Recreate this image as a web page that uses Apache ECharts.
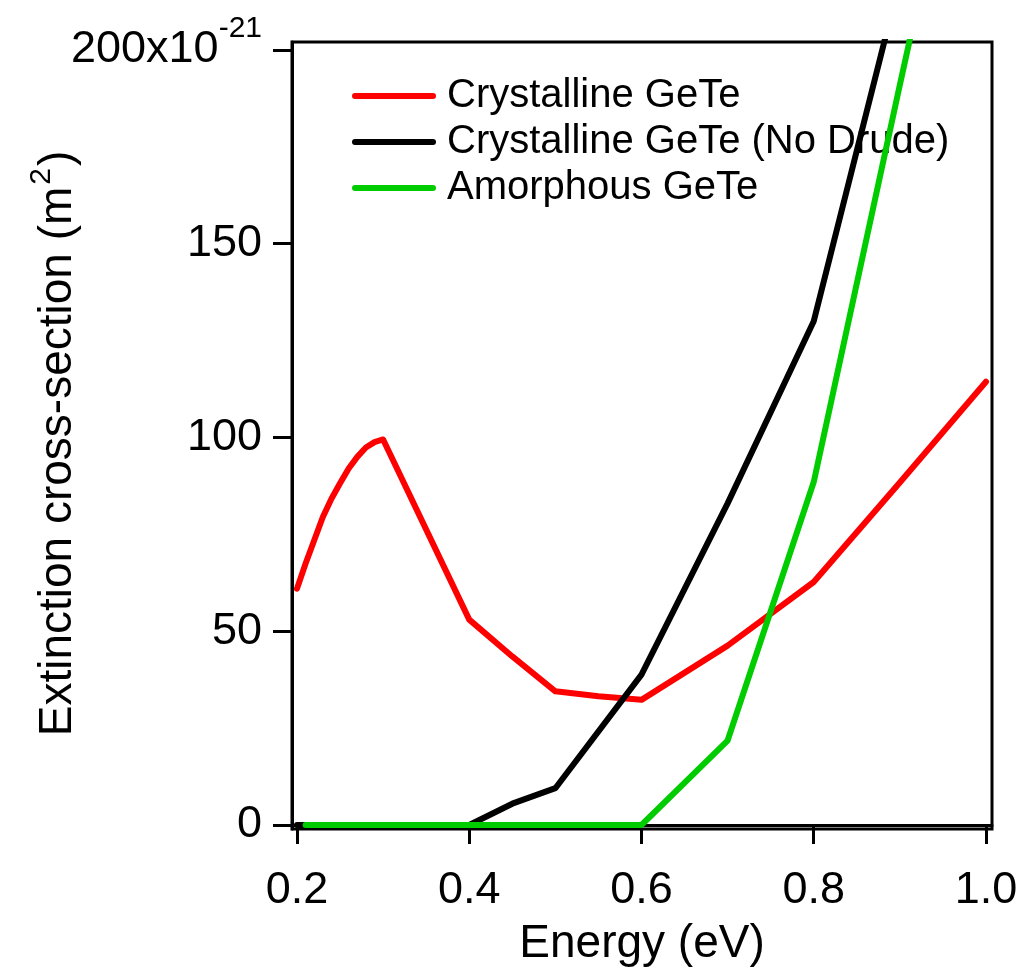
<!DOCTYPE html>
<html>
<head>
<meta charset="utf-8">
<style>
  html, body { margin: 0; padding: 0; background: #ffffff; }
  #chart { width: 1022px; height: 972px; }
</style>
<script src="https://cdn.jsdelivr.net/npm/echarts@6/dist/echarts.min.js"></script>
</head>
<body>
<div id="chart"></div>
<script>
// Photon energy (eV) and extinction cross-section (units of 1e-21 m^2)
const energyCrystalline = [0.2, 0.21, 0.22, 0.23, 0.24, 0.25, 0.26, 0.27, 0.28, 0.29, 0.3, 0.4, 0.45, 0.5, 0.55, 0.6, 0.7, 0.8, 0.9, 1.0];
const crossCrystalline  = [61, 67.5, 73.5, 79.5, 84.2, 88.2, 92, 95, 97.4, 98.8, 99.5, 53, 43.5, 34.5, 33.2, 32.3, 46.3, 62.7, 88.4, 114.4];

const energyNoDrude = [0.2, 0.3, 0.4, 0.45, 0.5, 0.6, 0.7, 0.8, 0.9];
const crossNoDrude  = [0, 0, 0, 5.5, 9.5, 38.8, 83, 130, 218];

const energyAmorphous = [0.21, 0.3, 0.4, 0.5, 0.6, 0.7, 0.8, 0.9, 1.0];
const crossAmorphous  = [0, 0, 0, 0, 0, 21.8, 88.5, 191, 292];

const seriesNames = ['Crystalline GeTe', 'Crystalline GeTe (No Drude)', 'Amorphous GeTe'];
const seriesColors = ['#ff0000', '#000000', '#00cc00'];

const xTicks = [0.2, 0.4, 0.6, 0.8, 1.0];
const yTicks = [0, 50, 100, 150, 200];

const FONT = 'Arial, "Liberation Sans", Helvetica, sans-serif';

function pairs(xs, ys) {
  return xs.map((x, i) => [x, ys[i]]);
}

const chart = echarts.init(document.getElementById('chart'), null, { renderer: 'canvas' });

const lineSeries = [
  [energyCrystalline, crossCrystalline],
  [energyNoDrude, crossNoDrude],
  [energyAmorphous, crossAmorphous]
].map(([xs, ys], i) => ({
  name: seriesNames[i],
  type: 'line',
  data: pairs(xs, ys),
  symbol: 'none',
  showSymbol: false,
  clip: true,
  lineStyle: { color: seriesColors[i], width: 6, cap: 'round', join: 'round' },
  itemStyle: { color: seriesColors[i] },
  emphasis: { disabled: true },
  z: 2 + i
}));

chart.setOption({
  animation: false,
  backgroundColor: '#ffffff',
  grid: {
    left: 292, right: 30, top: 42, bottom: 140,
    show: true, borderColor: '#000000', borderWidth: 3,
    backgroundColor: 'transparent'
  },
  legend: {
    orient: 'vertical',
    left: 347, top: 71,
    padding: 5,
    itemWidth: 78, itemHeight: 14,
    itemGap: 6,
    selectedMode: false,
    lineStyle: { width: 6, cap: 'round' },
    itemStyle: { color: 'transparent', borderWidth: 0, opacity: 0 },
    textStyle: { fontFamily: FONT, fontSize: 40, color: '#000000', padding: [0, 0, 0, 9] },
    data: seriesNames
  },
  xAxis: {
    type: 'value',
    min: 0.1942, max: 1.007,
    name: 'Energy (eV)',
    nameLocation: 'middle',
    nameGap: 92,
    nameMoveOverlap: false,
    nameTextStyle: { fontFamily: FONT, fontSize: 46, color: '#000000' },
    axisLine: { show: true, lineStyle: { color: '#000000', width: 3 } },
    axisTick: { show: true, inside: false, length: 19, customValues: xTicks, lineStyle: { color: '#000000', width: 3 } },
    axisLabel: {
      customValues: xTicks,
      margin: 39,
      fontFamily: FONT, fontSize: 45, color: '#000000',
      formatter: v => v.toFixed(1)
    },
    splitLine: { show: false }
  },
  yAxis: {
    type: 'value',
    min: -1.03, max: 202.06,
    name: '{n|Extinction cross-section (m}{s|2}{n|)}',
    nameLocation: 'middle',
    nameGap: 211,
    nameMoveOverlap: false,
    nameTextStyle: {
      fontFamily: FONT, fontSize: 46, color: '#000000',
      padding: [0, 16, 0, 0],
      rich: {
        n: { fontFamily: FONT, fontSize: 46, color: '#000000', lineHeight: 60, verticalAlign: 'bottom' },
        s: { fontFamily: FONT, fontSize: 30, color: '#000000', lineHeight: 60, verticalAlign: 'bottom', padding: [0, 2, 24, 2] }
      }
    },
    axisLine: { show: true, lineStyle: { color: '#000000', width: 3 } },
    axisTick: { show: true, inside: false, length: 19, customValues: yTicks, lineStyle: { color: '#000000', width: 3 } },
    axisLabel: {
      customValues: yTicks,
      margin: 30,
      fontFamily: FONT, fontSize: 45, color: '#000000',
      formatter: v => (v === 200 ? '{a|200x10}{s|-21}' : '{a|' + v + '}'),
      rich: {
        a: { fontFamily: FONT, fontSize: 45, color: '#000000' },
        s: { fontFamily: FONT, fontSize: 30, color: '#000000', padding: [0, 0, 43, 0] }
      }
    },
    splitLine: { show: false }
  },
  series: lineSeries
});
</script>
</body>
</html>
